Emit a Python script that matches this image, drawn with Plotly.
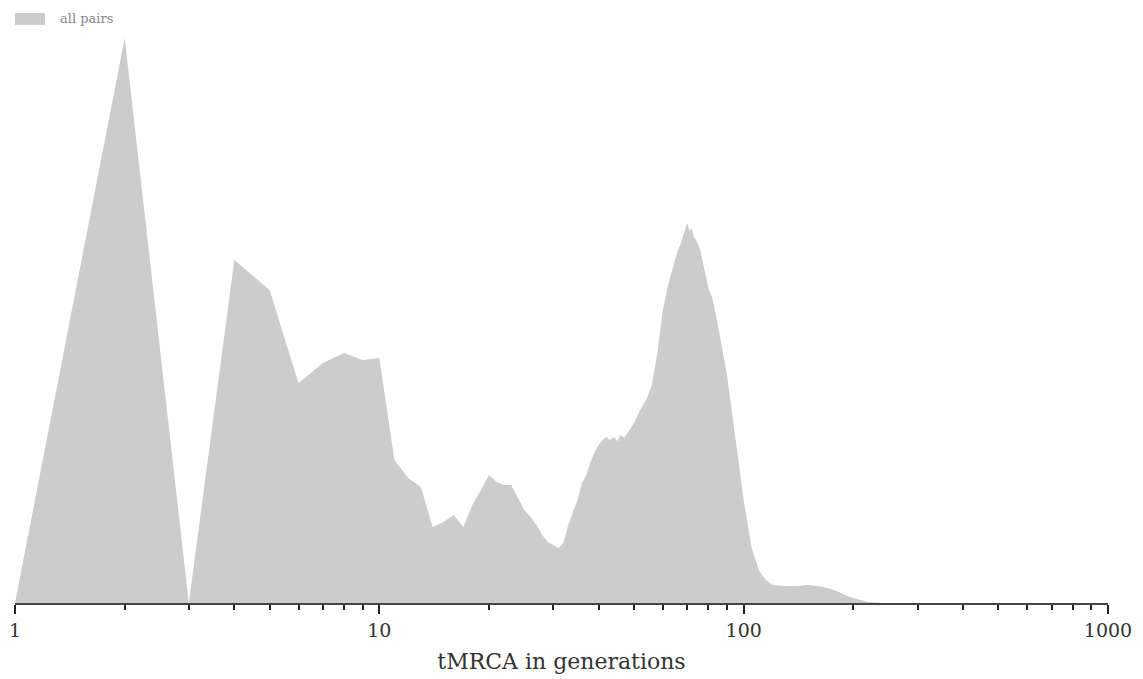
import plotly.graph_objects as go

# tMRCA (generations) and relative frequency (arbitrary units)
generations = [1, 2, 3, 4, 5, 6, 7, 8, 9, 10,
               11, 12, 13, 14, 15, 16, 17, 18, 19, 20,
               21, 22, 23, 24, 25, 26, 27, 28, 29, 30,
               31, 32, 33, 34, 35, 36, 37, 38, 39, 40,
               41, 42, 43, 44, 45, 46, 47, 48, 49, 50,
               52, 54, 56, 58, 60, 62, 64, 66, 67, 68,
               69, 70, 71, 72, 73, 74, 76, 78, 80, 82,
               85, 90, 95, 100, 105, 110, 115, 120, 130, 140,
               150, 160, 170, 180, 190, 200, 220, 240]
frequency = [0, 565, 0, 343, 313, 220, 240, 250, 243, 245,
             143, 125, 116, 76, 81, 88, 76, 98, 113, 128,
             121, 118, 118, 106, 93, 86, 78, 68, 61, 58,
             55, 60, 78, 91, 103, 120, 128, 141, 151, 158,
             163, 166, 163, 166, 162, 168, 165, 170, 175, 180,
             193, 203, 218, 251, 293, 318, 336, 353, 358, 365,
             372, 380, 372, 375, 366, 363, 353, 333, 315, 305,
             278, 228, 163, 103, 56, 33, 23, 18, 17, 17,
             18, 17, 15, 12, 8, 5, 1, 0]

major_ticks = [1, 10, 100, 1000]
tick_labels = ["1", "10", "100", "1000"]
minor_ticks = [2, 3, 4, 5, 6, 7, 8, 9,
               20, 30, 40, 50, 60, 70, 80, 90,
               200, 300, 400, 500, 600, 700, 800, 900]
series_name = "all pairs"

serif = "DejaVu Serif, Liberation Serif, serif"
fill_col = "#cccccc"

fig = go.Figure()
fig.add_trace(go.Scatter(
    x=generations, y=frequency, mode="lines", name=series_name,
    fill="tozeroy", fillcolor=fill_col,
    line=dict(color=fill_col, width=0),
    hoverinfo="x+y", showlegend=False,
))

# legend drawn as swatch + label (paper coordinates above the plot area)
fig.add_shape(type="rect", xref="paper", yref="paper",
              x0=0.0, x1=0.0275, y0=1.0087, y1=1.0297,
              fillcolor=fill_col, line=dict(width=0))
fig.add_annotation(xref="paper", yref="paper", x=0.039, y=1.0195,
                   xanchor="left", yanchor="middle", showarrow=False,
                   text=series_name,
                   font=dict(family=serif, size=13, color="#888888"))

fig.update_layout(
    width=1143, height=679,
    margin=dict(l=15, r=35, t=30, b=76, autoexpand=False),
    paper_bgcolor="white", plot_bgcolor="white",
    showlegend=False,
    xaxis=dict(
        type="log", range=[0, 3], automargin=False,
        tickvals=major_ticks, ticktext=tick_labels,
        ticks="outside", ticklen=9, tickwidth=2, tickcolor="#222222",
        showline=True, linecolor="#444444", linewidth=2,
        showgrid=False, zeroline=False,
        tickfont=dict(family=serif, size=19, color="#333333"),
        title=dict(text="tMRCA in generations",
                   font=dict(family=serif, size=22, color="#333333"),
                   standoff=14),
        minor=dict(tickvals=minor_ticks, ticks="outside", ticklen=5,
                   tickwidth=2, tickcolor="#222222", showgrid=False),
    ),
    yaxis=dict(range=[0, 573], visible=False, showgrid=False, zeroline=False),
)

fig.write_html("out.html")
